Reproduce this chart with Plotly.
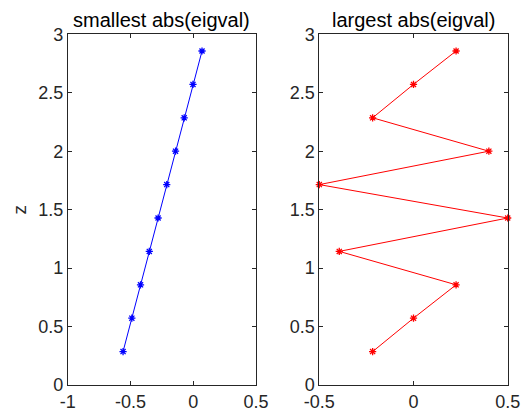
import plotly.graph_objects as go

z = [0.2857, 0.5714, 0.8571, 1.1429, 1.4286, 1.7143, 2.0, 2.2857, 2.5714, 2.8571]
x_small = [-0.559, -0.489, -0.420, -0.350, -0.280, -0.211, -0.141, -0.072, -0.002, 0.070]
x_large = [-0.217, 0.0, 0.226, -0.394, 0.5, -0.5, 0.4, -0.217, 0.0, 0.226]
titles = ["smallest abs(eigval)", "largest abs(eigval)"]

FONT = "Liberation Sans, Helvetica, Arial, sans-serif"
TXT = "#262626"

fig = go.Figure()
fig.add_trace(go.Scatter(x=x_small, y=z, mode="lines+markers", xaxis="x", yaxis="y",
                         line=dict(color="#0000ff", width=1),
                         marker=dict(symbol="asterisk-open", size=6, color="#0000ff",
                                     line=dict(color="#0000ff", width=1.3)),
                         cliponaxis=False, showlegend=False))
fig.add_trace(go.Scatter(x=x_large, y=z, mode="lines+markers", xaxis="x2", yaxis="y2",
                         line=dict(color="#ff0000", width=1),
                         marker=dict(symbol="asterisk-open", size=6, color="#ff0000",
                                     line=dict(color="#ff0000", width=1.3)),
                         cliponaxis=False, showlegend=False))

W, H = 524, 413
ydom = [28 / H, (H - 34.3) / H]
axcommon = dict(showgrid=False, zeroline=False, showline=True, linecolor="#262626",
                linewidth=0.8, mirror="ticks", ticks="inside", ticklen=4,
                tickcolor="#262626", tickwidth=0.8, automargin=False,
                tickfont=dict(family=FONT, size=18, color=TXT))

fig.update_layout(
    width=W, height=H, margin=dict(l=0, r=0, t=0, b=0),
    paper_bgcolor="white", plot_bgcolor="white",
    xaxis=dict(domain=[67.7 / W, 256 / W], range=[-1, 0.5], tickvals=[-1, -0.5, 0, 0.5],
               ticktext=["-1", "-0.5", "0", "0.5"], anchor="y", **axcommon),
    yaxis=dict(domain=ydom, range=[0, 3], tickvals=[0, 0.5, 1, 1.5, 2, 2.5, 3],
               ticktext=["0", "0.5", "1", "1.5", "2", "2.5", "3"], anchor="x",
               title=dict(text="z", font=dict(family=FONT, size=19, color=TXT), standoff=6),
               **axcommon),
    xaxis2=dict(domain=[319.3 / W, 507.7 / W], range=[-0.5, 0.5], tickvals=[-0.5, 0, 0.5],
                ticktext=["-0.5", "0", "0.5"], anchor="y2", **axcommon),
    yaxis2=dict(domain=ydom, range=[0, 3], tickvals=[0, 0.5, 1, 1.5, 2, 2.5, 3],
                ticktext=["0", "0.5", "1", "1.5", "2", "2.5", "3"], anchor="x2", **axcommon),
    annotations=[
        dict(text=titles[0], x=(67.7 + 256) / 2 / W, y=(H - 20) / H, xref="paper", yref="paper",
             showarrow=False, xanchor="center", yanchor="middle",
             font=dict(family=FONT, size=20, color="#000000")),
        dict(text=titles[1], x=(319.3 + 507.7) / 2 / W, y=(H - 20) / H, xref="paper", yref="paper",
             showarrow=False, xanchor="center", yanchor="middle",
             font=dict(family=FONT, size=20, color="#000000")),
    ],
)

fig.write_html("out.html")
